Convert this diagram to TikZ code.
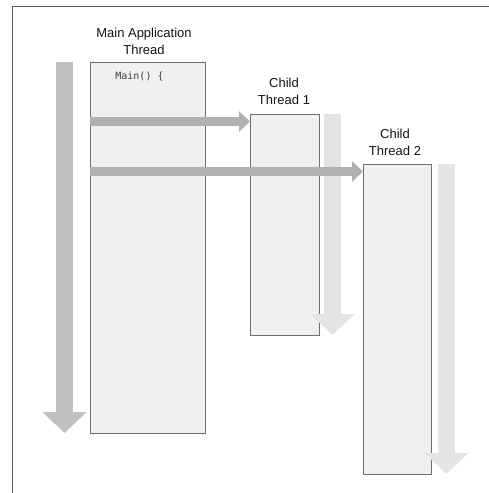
\documentclass[tikz,border=0pt]{standalone}
\usepackage{fontspec}
\setmainfont{Liberation Sans}
\newfontfamily\codefont{DejaVu Sans Mono}
\usetikzlibrary{arrows.meta}
\definecolor{framec}{HTML}{5E5E5E}
\definecolor{boxborder}{HTML}{6E6E6E}
\definecolor{boxfill}{HTML}{F0F0F0}
\definecolor{mainarrow}{HTML}{BFC0C2}
\definecolor{childarrow}{HTML}{E3E4E6}
\definecolor{spawnarrow}{HTML}{B0B1B3}
\begin{document}
\begin{tikzpicture}[x=1pt,y=-1pt,
  threadbox/.style={draw=boxborder,fill=boxfill,line width=0.9pt,anchor=north west,inner sep=0pt},
  vflow/.style={line width=17pt,-{Triangle[length=21pt,width=43pt]}},
  hflow/.style={draw=spawnarrow,line width=9.5pt,-{Triangle[length=11pt,width=20pt]},shorten <=0pt},
  title/.style={font=\fontsize{13}{17}\selectfont,align=center,text=black!92,inner sep=0pt}
]
\useasboundingbox (0,0) rectangle (489,493);
% frame
\draw[framec,line width=0.9pt] (489,6.5) -- (12.5,6.5) -- (12.5,493);
% boxes
\node[threadbox,minimum width=115pt,minimum height=371pt] (main) at (90,62) {};
\node[threadbox,minimum width=69pt,minimum height=221pt] (c1) at (250,114) {};
\node[threadbox,minimum width=68pt,minimum height=310pt] (c2) at (363,164) {};
% code
\node[font=\codefont\fontsize{10}{12}\selectfont,text=black!75,inner sep=0pt] (code) at (139.5,77) {Main() \{};
% titles
\node[title] (tmain) at (144,41.5) {Main Application\\Thread};
\node[title] (tc1) at (284,91) {Child\\Thread 1};
\node[title] (tc2) at (395,142) {Child\\Thread 2};
% vertical flow arrows
\coordinate (m0) at (64.5,62); \coordinate (m1) at (64.5,433);
\coordinate (a0) at (332.5,114); \coordinate (a1) at (332.5,335);
\coordinate (b0) at (446.5,164); \coordinate (b1) at (446.5,474);
\draw[vflow,draw=mainarrow] (m0) -- (m1);
\draw[vflow,draw=childarrow] (a0) -- (a1);
\draw[vflow,draw=childarrow] (b0) -- (b1);
% spawn arrows
\coordinate (h1) at (0,121.5);
\coordinate (h2) at (0,171.5);
\draw[hflow] (main.west |- h1) -- (c1.west |- h1);
\draw[hflow] (main.west |- h2) -- (c2.west |- h2);
\end{tikzpicture}
\end{document}
